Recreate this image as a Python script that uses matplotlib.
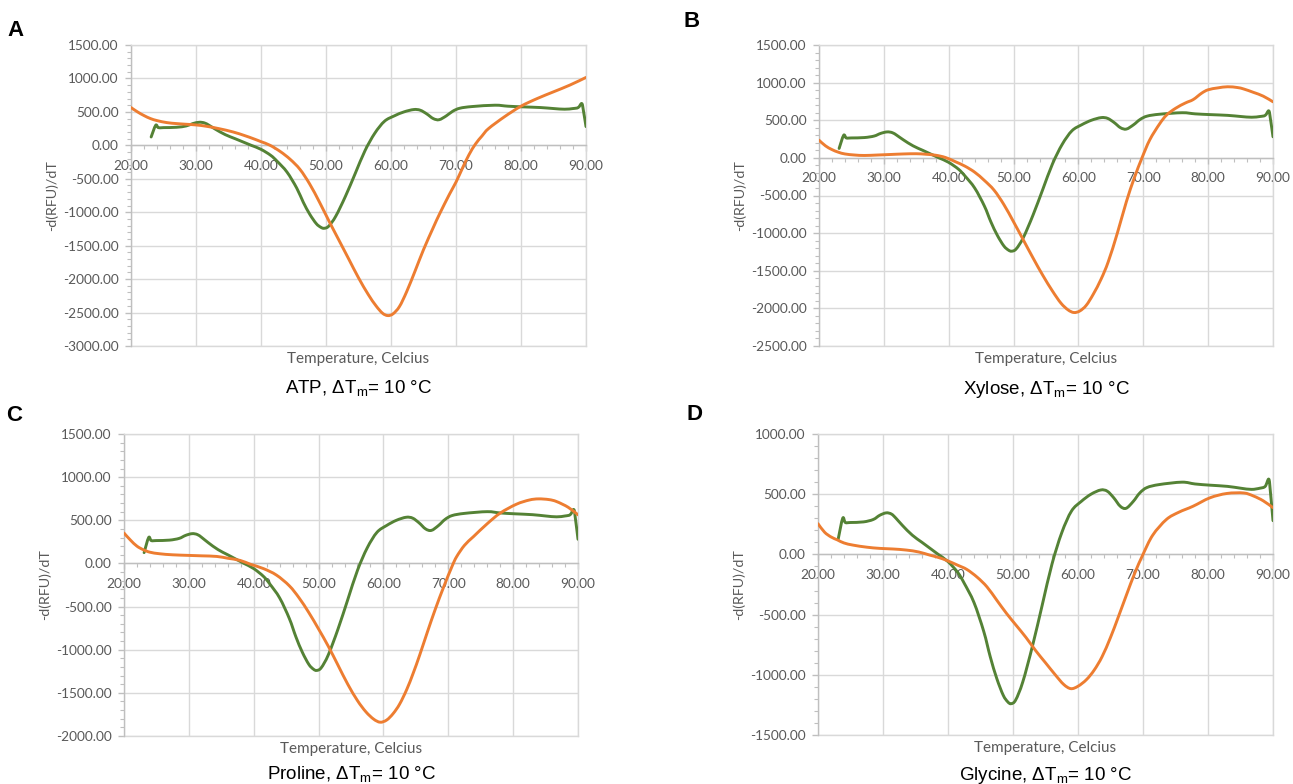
import matplotlib
matplotlib.use("Agg")
import numpy as np
import matplotlib.pyplot as plt
from matplotlib.path import Path
from matplotlib.patches import PathPatch
from matplotlib.ticker import MultipleLocator, FuncFormatter

# ---- data: melt-curve derivatives, -d(RFU)/dT vs temperature (°C) ----
# reference protein trace (same in every panel)
ref_temp = [23.1, 23.8, 24.2, 25.0, 27.0, 28.5, 29.5, 30.5, 31.3, 32.0,
            33.0, 34.5, 36.0, 37.5, 38.5, 40.0, 41.5, 42.5, 44.0, 45.5,
            46.5, 47.5, 48.5, 49.2, 49.7, 50.4, 51.5, 53.0, 54.5, 56.0,
            57.5, 59.0, 60.5, 62.0, 63.5, 64.5, 65.5, 66.5, 67.4, 68.5,
            69.5, 70.6, 72.5, 76.0, 78.0, 80.3, 83.0, 85.0, 86.7, 88.0,
            88.8, 89.35, 89.6, 90.0]
ref_drfu = [125, 300, 265, 265, 270, 290, 325, 345, 335, 300,
            240, 160, 100, 40, 0, -60, -150, -240, -400, -640,
            -850, -1030, -1170, -1225, -1240, -1210, -1060, -760, -420, -80,
            180, 360, 440, 500, 535, 525, 470, 400, 383, 440,
            510, 555, 580, 600, 585, 575, 565, 550, 540, 550,
            565, 625, 520, 280]

atp_temp = [20, 21, 22, 23, 24, 25.5, 27, 28.5, 30, 31.6,
            33.5, 35.7, 37.5, 38.8, 40, 41.4, 43, 44.5, 46, 47.5,
            49, 50.5, 52, 53.5, 55, 56.5, 57.7, 58.7, 59.5, 60.3,
            61.3, 62.4, 63.7, 65, 66.5, 67.5, 69, 70, 71, 72,
            73, 74, 75, 77.5, 80, 82.5, 85, 87.5, 90]
atp_drfu = [565, 500, 445, 400, 370, 340, 325, 315, 305, 285,
            250, 200, 145, 100, 55, 0, -95, -210, -360, -580,
            -850, -1140, -1420, -1700, -1980, -2230, -2400, -2510, -2545, -2520,
            -2410, -2190, -1880, -1560, -1230, -1020, -730, -550, -340, -140,
            20, 140, 250, 430, 585, 700, 800, 900, 1015]

xyl_temp = [20, 21, 22, 23, 24, 25.5, 27, 29, 31, 33,
            35, 36.5, 38, 39.5, 41, 42.5, 44, 45.5, 47, 48.5,
            50, 51.5, 53, 54.5, 56, 57.3, 58.4, 59.3, 60.2, 61.2,
            62.3, 63.5, 64.6, 66, 67.4, 68.6, 69.8, 71, 72.5, 73.6,
            75, 76.5, 77.7, 79, 80, 81.5, 83, 84.5, 85.5, 87,
            88.5, 90]
xyl_drfu = [235, 160, 110, 75, 52, 38, 32, 38, 45, 52,
            55, 48, 35, 5, -50, -110, -190, -300, -430, -620,
            -850, -1090, -1330, -1560, -1770, -1930, -2020, -2055, -2035, -1960,
            -1810, -1610, -1380, -1000, -580, -270, 0, 240, 450, 570,
            660, 730, 775, 860, 905, 930, 945, 935, 915, 870,
            820, 745]

pro_temp = [20, 21, 22, 23, 24, 25.5, 27.5, 30, 32, 34.3,
            36, 37.9, 39.5, 41.5, 43.5, 45.5, 47, 48.5, 50, 51.5,
            53, 54.5, 56, 57.3, 58.5, 59.5, 60.5, 61.5, 62.5, 63.6,
            64.6, 65.6, 66.8, 68, 69.3, 70.6, 71.3, 72.5, 73.9, 76,
            78, 80.5, 82.5, 83.9, 85.5, 86.7, 88.5, 90]
pro_drfu = [352, 270, 200, 158, 130, 112, 100, 93, 88, 81,
            60, 35, -10, -60, -135, -260, -400, -570, -760, -960,
            -1180, -1400, -1590, -1720, -1805, -1840, -1815, -1740, -1630, -1460,
            -1270, -1060, -790, -530, -270, -30, 80, 210, 312, 460,
            583, 686, 735, 748, 740, 717, 650, 563]

gly_temp = [20, 21, 22, 23, 24, 25.4, 27.5, 29.5, 31.5, 33.6,
            35.5, 37.2, 38.5, 39.8, 41.5, 42.9, 44.5, 46, 47.5, 49,
            50.5, 52, 53.5, 55, 56.5, 57.8, 58.9, 60, 61.3, 62.5,
            63.7, 65, 66.2, 67.5, 68.7, 70, 71.5, 73.6, 75.5, 77.7,
            80.3, 82.9, 85.5, 87, 88.5, 90]
gly_drfu = [255, 185, 145, 120, 95, 77, 60, 50, 45, 36,
            20, -6, -25, -50, -90, -125, -190, -270, -380, -490,
            -590, -690, -800, -900, -1000, -1080, -1115, -1095, -1040, -960,
            -850, -690, -520, -330, -160, 0, 160, 290, 350, 400,
            470, 506, 510, 485, 445, 388]

panel_letters = ["A", "B", "C", "D"]
ligands = ["ATP", "Xylose", "Proline", "Glycine"]
delta_tm = [10, 10, 10, 10]
y_ranges = [(-3000, 1500), (-2500, 1500), (-2000, 1500), (-1500, 1000)]
ligand_temps = [atp_temp, xyl_temp, pro_temp, gly_temp]
ligand_drfu = [atp_drfu, xyl_drfu, pro_drfu, gly_drfu]
x_range = (20, 90)
x_title = "Temperature, Celcius"
y_title = "-d(RFU)/dT"

# ---- style ----
GREEN = "#548235"
ORANGE = "#ED7D31"
GRID = "#d9d9d9"
AXIS = "#bfbfbf"
LABEL = "#595959"
TICK_FONT = "Lato"
TITLE_FONT = "Liberation Sans"

plt.rcParams["mathtext.fontset"] = "custom"
plt.rcParams["mathtext.rm"] = TITLE_FONT

W, H = 1293, 784
fig = plt.figure(figsize=(W / 100, H / 100), dpi=100)
fig.patch.set_facecolor("white")

# plot-area boxes in pixels: left, top, right, bottom
boxes = [(131, 45, 586, 346), (819, 45, 1273, 346),
         (124, 434, 578, 736), (818, 434, 1273, 735)]
letter_pos = [(16, 36), (692, 27), (14.5, 421), (694, 420)]
subtitle_base = [394, 394, 780, 780]


def smooth_path(x, y):
    """Smoothed line through the points (Catmull-Rom as cubic Bezier)."""
    p = np.column_stack([x, y]).astype(float)
    n = len(p)
    verts = [p[0]]
    codes = [Path.MOVETO]
    for i in range(n - 1):
        p0 = p[i - 1] if i > 0 else p[i]
        p1, p2 = p[i], p[i + 1]
        p3 = p[i + 2] if i + 2 < n else p[i + 1]
        verts += [p1 + (p2 - p0) / 6.0, p2 - (p3 - p1) / 6.0, p2]
        codes += [Path.CURVE4] * 3
    return Path(verts, codes)


def fx(px):
    return px / W


def fy(py):
    return 1 - py / H


fmt = FuncFormatter(lambda v, pos: f"{v:.2f}")

for k in range(4):
    l, t, r, b = boxes[k]
    ax = fig.add_axes([fx(l), fy(b), (r - l) / W, (b - t) / H])
    ax.set_xlim(*x_range)
    ax.set_ylim(*y_ranges[k])
    ax.set_axisbelow(True)

    ax.xaxis.set_major_locator(MultipleLocator(10))
    ax.xaxis.set_minor_locator(MultipleLocator(2))
    ax.yaxis.set_major_locator(MultipleLocator(500))
    ax.yaxis.set_minor_locator(MultipleLocator(100))
    ax.xaxis.set_major_formatter(fmt)
    ax.yaxis.set_major_formatter(fmt)
    ax.grid(True, which="major", color=GRID, lw=1.0)

    ax.spines["bottom"].set_position(("data", 0))
    ax.spines["bottom"].set_color(AXIS)
    ax.spines["left"].set_color(AXIS)
    ax.spines["top"].set_color(GRID)
    ax.spines["right"].set_color(GRID)
    for s in ax.spines.values():
        s.set_linewidth(1.0)
    ax.axhline(y_ranges[k][0], color=GRID, lw=1.0, clip_on=False, zorder=0.6)

    ax.tick_params(axis="both", which="major", direction="out", length=4,
                   width=1.0, color=AXIS, labelcolor=LABEL, pad=5,
                   labelsize=9.8)
    ax.tick_params(axis="x", which="major", pad=6.5)
    ax.tick_params(axis="both", which="minor", direction="out", length=3,
                   width=0.8, color=AXIS)
    for lab in ax.get_xticklabels() + ax.get_yticklabels():
        lab.set_fontfamily(TICK_FONT)

    # curves: reference protein and protein + ligand
    ax.add_patch(PathPatch(smooth_path(ref_temp, ref_drfu), fill=False,
                           edgecolor=GREEN, lw=2.1, capstyle="round",
                           joinstyle="round", zorder=3))
    ax.add_patch(PathPatch(smooth_path(ligand_temps[k], ligand_drfu[k]),
                           fill=False, edgecolor=ORANGE, lw=2.1,
                           capstyle="round", joinstyle="round", zorder=3.1))

    cx = (l + r) / 2
    fig.text(fx(cx), fy(b + 13), x_title, ha="center", va="center",
             fontsize=11, color=LABEL, family=TICK_FONT)
    fig.text(fx(l - 79), fy((t + b) / 2), y_title, ha="center", va="center",
             rotation=90, fontsize=10.3, color=LABEL, family=TICK_FONT)
    fig.text(fx(cx), fy(subtitle_base[k]),
             ligands[k] + r", ΔT$_\mathregular{m}$= " + f"{delta_tm[k]} °C",
             ha="center", va="baseline", fontsize=13.5, color="black",
             family=TITLE_FONT)
    lx, ly = letter_pos[k]
    fig.text(fx(lx), fy(ly), panel_letters[k], ha="center", va="baseline",
             fontsize=16, fontweight="bold", color="black",
             family=TITLE_FONT)

fig.savefig("out.png", dpi=100, facecolor="white")
